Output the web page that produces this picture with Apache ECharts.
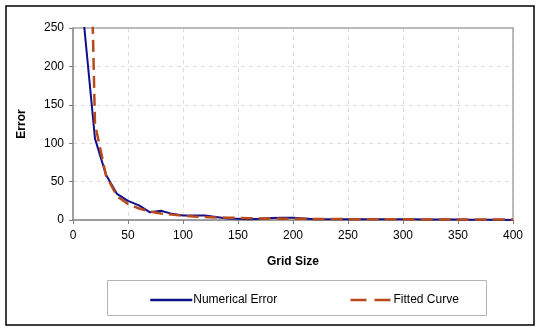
<!DOCTYPE html>
<html>
<head>
<meta charset="utf-8">
<script src="https://cdn.jsdelivr.net/npm/echarts@6/dist/echarts.min.js"></script>
<style>
  html, body { margin: 0; padding: 0; background: #fff; }
  #errChart { width: 545px; height: 332px; }
</style>
</head>
<body>
<div id="errChart"></div>
<script>
    // grid sizes (x) and the two curves
    var gridSizes = [10, 20, 30, 40, 50, 60, 70, 80, 90, 100,
        110, 120, 130, 140, 150, 160, 170, 180, 190, 200,
        210, 220, 230, 240, 250, 260, 270, 280, 290, 300,
        310, 320, 330, 340, 350, 360, 370, 380, 390, 400];
    var numericalError = [255, 106, 59, 34, 25, 19, 10, 12, 8, 6,
        6, 6, 4, 2, 1.5, 1, 1.5, 2.5, 3, 3,
        2, 1, 1, 1, 1, 1, 1, 1, 1, 1,
        1, 0.5, 0.5, 0.5, 0.5, 0.3, 0.3, 0.2, 0.2, 0];
    var fittedCurve = [750, 125, 58, 31, 21, 15, 11, 8.5, 7, 5.5,
        4.6, 4, 3.4, 3, 2.7, 2.4, 2.1, 1.9, 1.7, 1.6,
        1.5, 1.4, 1.3, 1.2, 1.1, 1.05, 1, 0.95, 0.9, 0.85,
        0.8, 0.75, 0.7, 0.65, 0.6, 0.6, 0.55, 0.55, 0.5, 0.5];

    function pairs(xs, ys) {
        return xs.map(function (x, i) { return [x, ys[i]]; });
    }

    var chart = echarts.init(document.getElementById('errChart'));
    var font = 'Liberation Sans, Arial, sans-serif';
    var dashGrid = { show: true, lineStyle: { color: '#dcdcdc', type: [4, 4] } };
    // top / right frame of the plot area
    var frameAxis = {
        show: true,
        axisLine: { show: true, onZero: false, lineStyle: { color: '#a6a6a6', width: 1.5 } },
        axisTick: { show: false },
        axisLabel: { show: false },
        splitLine: { show: false }
    };

    var option = {
        animation: false,
        textStyle: { fontFamily: font },
        grid: { left: 73, right: 32, top: 28, bottom: 112 },
        xAxis: [{
            type: 'value',
            min: 0, max: 400, interval: 50,
            name: 'Grid Size',
            nameLocation: 'middle',
            nameGap: 36,
            nameTextStyle: { fontFamily: font, fontSize: 12, fontWeight: 'bold', color: '#000' },
            axisLine: { lineStyle: { color: '#808080', width: 1.5 } },
            axisTick: { show: true, length: 4, lineStyle: { color: '#808080' } },
            axisLabel: { fontFamily: font, fontSize: 12, color: '#000', margin: 10 },
            splitLine: dashGrid
        }, Object.assign({ type: 'value', position: 'top', min: 0, max: 400 }, frameAxis)],
        yAxis: [{
            type: 'value',
            min: 0, max: 250, interval: 50,
            name: 'Error',
            nameLocation: 'middle',
            nameGap: 45,
            nameRotate: 90,
            nameTextStyle: { fontFamily: font, fontSize: 12, fontWeight: 'bold', color: '#000' },
            axisLine: { show: true, lineStyle: { color: '#808080', width: 1.5 } },
            axisTick: { show: true, length: 4, lineStyle: { color: '#808080' } },
            axisLabel: { fontFamily: font, fontSize: 12, color: '#000', margin: 9 },
            splitLine: dashGrid
        }, Object.assign({ type: 'value', position: 'right', min: 0, max: 250 }, frameAxis)],
        legend: {
            left: 144,
            top: 289,
            itemWidth: 42,
            itemHeight: 12,
            itemGap: 72,
            itemStyle: { opacity: 0 },
            textStyle: { fontFamily: font, fontSize: 12, color: '#000', padding: [0, 0, 0, -4] },
            data: [
                { name: 'Numerical Error', lineStyle: { width: 2.5 } },
                { name: 'Fitted Curve', lineStyle: { width: 2.5, type: [16, 8] } }
            ]
        },
        graphic: [
            {
                type: 'rect',
                shape: { x: 6, y: 6, width: 528, height: 319 },
                style: { fill: 'none', stroke: '#000', lineWidth: 1.5 },
                silent: true
            },
            {
                type: 'rect',
                shape: { x: 107.5, y: 280.5, width: 379, height: 35 },
                style: { fill: 'none', stroke: '#b4b4b4', lineWidth: 1 },
                silent: true
            }
        ],
        series: [
            {
                name: 'Numerical Error',
                type: 'line',
                symbol: 'none',
                clip: true,
                data: pairs(gridSizes, numericalError),
                lineStyle: { color: '#10108a', width: 2 },
                itemStyle: { color: '#10108a' },
                z: 2
            },
            {
                name: 'Fitted Curve',
                type: 'line',
                symbol: 'none',
                clip: true,
                data: pairs(gridSizes, fittedCurve),
                lineStyle: { color: '#b84a1c', width: 2.5, type: [12, 6] },
                itemStyle: { color: '#b84a1c' },
                z: 3
            }
        ]
    };
    chart.setOption(option);
    window.addEventListener('resize', function () {
        chart.resize();
    });
</script>
</body>
</html>
